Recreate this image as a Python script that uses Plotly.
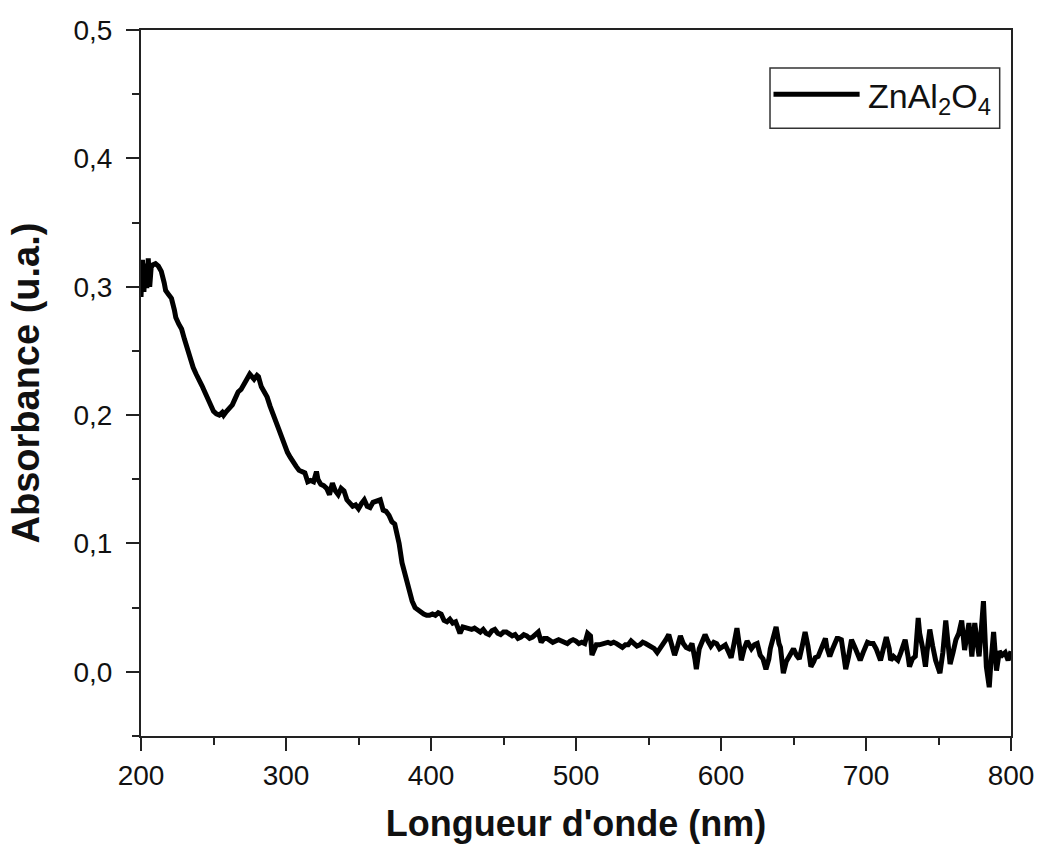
import plotly.graph_objects as go

wavelength = [
    200, 201, 202, 203, 204, 205, 206, 207, 208, 210, 212, 214, 216, 217, 219, 221, 223, 224, 226, 228,
    230, 232, 234, 236, 238, 240, 242, 244, 246, 248, 250, 252, 254, 256, 257, 259, 261, 263, 265, 267,
    269, 271, 273, 275, 277, 278, 280, 281, 283, 285, 287, 289, 291, 293, 295, 297, 299, 301, 303, 305,
    307, 309, 311, 313, 315, 317, 319, 321, 322, 324, 326, 328, 330, 332, 334, 336, 338, 340, 342, 344,
    346, 348, 350, 352, 354, 356, 358, 360, 363, 365, 367, 369, 371, 373, 375, 377, 378, 380, 382, 384,
    385, 387, 389, 391, 393, 395, 397, 399, 401, 403, 405, 407, 409, 411, 413, 415, 417, 419, 420, 422,
    424, 426, 428, 430, 432, 434, 436, 438, 440, 442, 444, 446, 448, 450, 452, 454, 456, 458, 460, 462,
    464, 466, 468, 470, 472, 474, 476, 478, 480, 482, 484, 486, 488, 490, 492, 494, 496, 498, 500, 502,
    504, 506, 508, 510, 511, 512, 514, 516, 518, 520, 522, 524, 526, 528, 530, 532, 534, 536, 538, 540,
    542, 544, 546, 548, 550, 552, 554, 556, 558, 560, 562, 564, 566, 568, 570, 572, 574, 576, 578, 580,
    582, 583, 585, 587, 589, 591, 593, 595, 597, 599, 601, 603, 605, 607, 609, 611, 613, 614, 616, 618,
    620, 621, 623, 625, 627, 629, 631, 633, 634, 636, 638, 640, 641, 643, 645, 647, 649, 650, 652, 654,
    656, 657, 658, 660, 662, 664, 665, 667, 670, 672, 673, 675, 677, 680, 681, 683, 685, 686, 688, 690,
    692, 694, 696, 698, 701, 703, 705, 707, 708, 710, 712, 714, 716, 717, 719, 722, 724, 727, 729, 730,
    732, 734, 736, 737, 739, 741, 742, 744, 746, 748, 751, 753, 755, 756, 758, 760, 762, 764, 766, 768,
    770, 771, 773, 775, 777, 778, 780, 781, 783, 785, 786, 788, 790, 792, 794, 796, 798, 800,
]

absorbance = [
    0.292, 0.321, 0.296, 0.318, 0.299, 0.322, 0.300, 0.315, 0.317, 0.318, 0.316, 0.312, 0.303, 0.297, 0.294, 0.291, 0.282, 0.276, 0.271, 0.267,
    0.259, 0.251, 0.243, 0.237, 0.232, 0.228, 0.223, 0.218, 0.213, 0.208, 0.203, 0.201, 0.200, 0.202, 0.200, 0.203, 0.206, 0.208, 0.213, 0.218,
    0.220, 0.225, 0.228, 0.232, 0.229, 0.228, 0.231, 0.230, 0.222, 0.218, 0.214, 0.207, 0.200, 0.195, 0.189, 0.183, 0.176, 0.171, 0.167, 0.163,
    0.160, 0.157, 0.156, 0.155, 0.148, 0.149, 0.148, 0.156, 0.150, 0.146, 0.145, 0.143, 0.138, 0.147, 0.141, 0.138, 0.143, 0.141, 0.134, 0.131,
    0.129, 0.130, 0.127, 0.131, 0.134, 0.129, 0.128, 0.132, 0.133, 0.134, 0.126, 0.125, 0.122, 0.117, 0.115, 0.105, 0.100, 0.085, 0.077, 0.066,
    0.062, 0.055, 0.050, 0.048, 0.047, 0.045, 0.044, 0.044, 0.045, 0.044, 0.046, 0.045, 0.040, 0.039, 0.041, 0.038, 0.039, 0.033, 0.030, 0.035,
    0.034, 0.034, 0.033, 0.034, 0.033, 0.031, 0.033, 0.030, 0.029, 0.032, 0.033, 0.030, 0.029, 0.031, 0.031, 0.029, 0.028, 0.029, 0.026, 0.027,
    0.029, 0.028, 0.026, 0.027, 0.029, 0.031, 0.023, 0.026, 0.026, 0.024, 0.023, 0.024, 0.025, 0.024, 0.023, 0.022, 0.024, 0.025, 0.024, 0.022,
    0.023, 0.022, 0.030, 0.028, 0.013, 0.016, 0.021, 0.021, 0.022, 0.022, 0.023, 0.022, 0.023, 0.022, 0.021, 0.019, 0.021, 0.021, 0.024, 0.022,
    0.020, 0.021, 0.023, 0.022, 0.021, 0.020, 0.018, 0.015, 0.018, 0.021, 0.025, 0.029, 0.020, 0.013, 0.020, 0.028, 0.022, 0.019, 0.018, 0.022,
    0.010, 0.002, 0.018, 0.023, 0.029, 0.024, 0.020, 0.023, 0.022, 0.018, 0.020, 0.021, 0.016, 0.011, 0.022, 0.034, 0.018, 0.009, 0.018, 0.024,
    0.020, 0.018, 0.021, 0.022, 0.013, 0.010, 0.002, 0.010, 0.018, 0.028, 0.035, 0.022, 0.019, -0.001, 0.008, 0.012, 0.016, 0.018, 0.013, 0.010,
    0.020, 0.024, 0.031, 0.020, 0.004, 0.008, 0.011, 0.012, 0.020, 0.026, 0.019, 0.012, 0.018, 0.026, 0.026, 0.025, 0.010, 0.002, 0.012, 0.025,
    0.020, 0.015, 0.009, 0.015, 0.023, 0.022, 0.022, 0.018, 0.015, 0.009, 0.018, 0.027, 0.018, 0.009, 0.012, 0.009, 0.015, 0.025, 0.012, 0.004,
    0.010, 0.012, 0.042, 0.030, 0.019, 0.004, 0.015, 0.033, 0.020, 0.009, -0.001, 0.015, 0.040, 0.025, 0.006, 0.015, 0.025, 0.030, 0.040, 0.017,
    0.030, 0.038, 0.012, 0.038, 0.020, 0.012, 0.040, 0.055, 0.004, -0.012, 0.005, 0.031, 0.001, 0.016, 0.013, 0.015, 0.009, 0.016,
]

x_ticks = [200, 300, 400, 500, 600, 700, 800]
y_ticks = [0.0, 0.1, 0.2, 0.3, 0.4, 0.5]
series_name = "ZnAl<sub>2</sub>O<sub>4</sub>"

fig = go.Figure()
fig.add_trace(go.Scatter(
    x=wavelength, y=absorbance, mode="lines", name=series_name,
    line=dict(color="black", width=5), showlegend=False,
))

axis_common = dict(
    showline=True, linecolor="#222", linewidth=2, mirror=True,
    ticks="outside", ticklen=13, tickwidth=2, tickcolor="#222",
    showgrid=False, zeroline=False,
    tickfont=dict(family="Liberation Sans, Arial", size=28, color="#111"),
)

fig.update_xaxes(
    range=[200, 800], tickvals=x_ticks,
    minor=dict(ticks="outside", ticklen=7, tickwidth=2, tickcolor="#222", dtick=50, tick0=200),
    title=dict(text="<b>Longueur d'onde (nm)</b>",
               font=dict(family="Liberation Sans, Arial", size=36, color="#111"), standoff=21),
    **axis_common,
)
fig.update_yaxes(
    range=[-0.05, 0.5], tickvals=y_ticks, tickformat=".1f", ticklabelstandoff=8,
    minor=dict(ticks="outside", ticklen=7, tickwidth=2, tickcolor="#222", dtick=0.05, tick0=0),
    title=dict(text="<b>Absorbance (u.a.)</b>",
               font=dict(family="Liberation Sans, Arial", size=38, color="#111"), standoff=22),
    **axis_common,
)

# legend drawn manually
fig.add_shape(type="rect", xref="paper", yref="paper", x0=0.723, x1=0.987, y0=0.861, y1=0.946,
              line=dict(color="#333", width=1.5), fillcolor="white")
fig.add_shape(type="line", xref="paper", yref="paper", x0=0.727, x1=0.826, y0=0.909, y1=0.909,
              line=dict(color="black", width=5))
fig.add_annotation(xref="paper", yref="paper", x=0.833, y=0.903, xanchor="left", yanchor="middle",
                   text=series_name, showarrow=False,
                   font=dict(family="Liberation Sans, Arial", size=34, color="#111"))

fig.update_layout(
    width=1046, height=849,
    margin=dict(l=141, r=28, t=30, b=113),
    plot_bgcolor="white", paper_bgcolor="white",
    separators=", ",
)

fig.write_html("out.html")
